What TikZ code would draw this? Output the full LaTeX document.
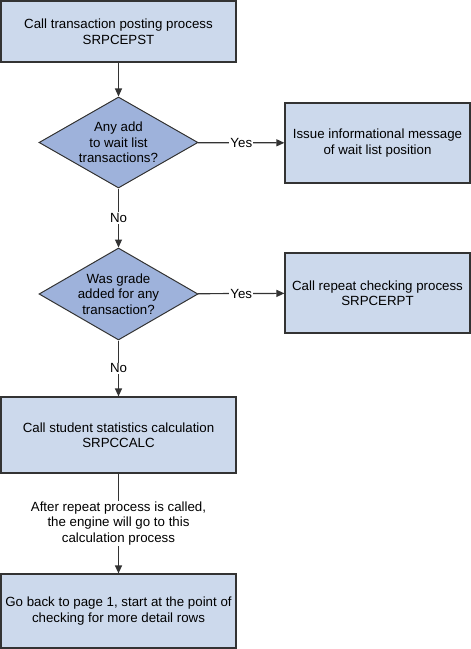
\documentclass[tikz,border=0pt]{standalone}
\usepackage{fontspec}
\setmainfont{Liberation Sans}
\usetikzlibrary{shapes.geometric,arrows.meta}
\definecolor{boxfill}{RGB}{204,217,236}
\definecolor{diafill}{RGB}{158,178,219}
\definecolor{edge}{RGB}{51,51,51}
\begin{document}
\begin{tikzpicture}[x=1bp,y=1bp,
  every node/.style={font=\fontsize{13.3bp}{15.5bp}\selectfont, text=black},
  procbox/.style={draw=edge, line width=1.2bp, fill=boxfill, align=center, inner sep=0pt},
  decide/.style={diamond, draw=edge, line width=1bp, fill=diafill, align=center, inner sep=0pt, shape aspect=1.73, minimum width=159bp, minimum height=91bp},
  flow/.style={draw=edge, line width=1.2bp, -{Triangle[length=8bp,width=7bp]}},
  lbl/.style={fill=white, inner sep=1bp}
]
\useasboundingbox (0,0) rectangle (471,-649);
\node[procbox, minimum width=235bp, minimum height=61bp] (b1) at (118.5,-31.5) {Call transaction posting process\\SRPCEPST};
\node[decide] (d1) at (118.5,-142.5) {Any add\\to wait list\\transactions?};
\node[procbox, minimum width=185bp, minimum height=80bp] (b2) at (377.5,-143) {Issue informational message\\of wait list position};
\node[decide, minimum height=92bp] (d2) at (118.5,-294) {Was grade\\added for any\\transaction?};
\node[procbox, minimum width=185bp, minimum height=80bp] (b3) at (377.5,-293) {Call repeat checking process\\SRPCERPT};
\node[procbox, minimum width=235bp, minimum height=76bp] (b4) at (118.5,-435) {Call student statistics calculation\\SRPCCALC};
\node[procbox, minimum width=235bp, minimum height=74bp] (b5) at (118.5,-611) {Go back to page 1, start at the point of\\checking for more detail rows};

\draw[flow] (b1) -- (d1);
\draw[flow] (d1) -- node[lbl] {Yes} (b2);
\draw[flow] (d1) -- node[lbl, pos=0.5] {No} (d2);
\draw[flow] (d2) -- node[lbl] {Yes} (b3);
\draw[flow] (d2) -- node[lbl, pos=0.5] {No} (b4);
\draw[flow] (b4) -- node[lbl, align=center, pos=0.5] {After repeat process is called,\\the engine will go to this\\calculation process} (b5);
\end{tikzpicture}
\end{document}
